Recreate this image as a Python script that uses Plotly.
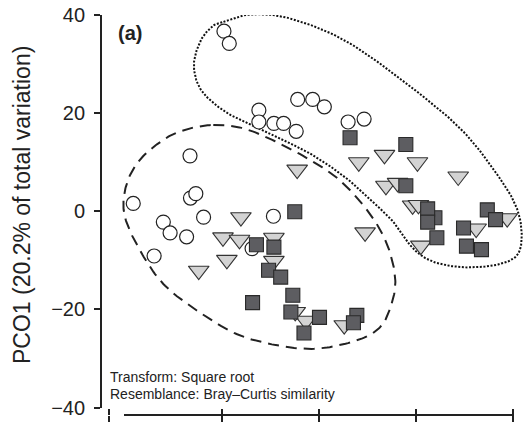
import numpy as np
import plotly.graph_objects as go

# ---- data (PCO scores) ----
circle_x = [-19.6, -18.5, -12.4, -12.4, -9.3, -7.3, -4.7, -4.4, -1.3, 1.1, 6.0, 9.3,
            -26.6, -38.3, -26.5, -25.4, -23.8, -32.1, -30.7, -27.3, -34.0, -9.4, -13.8]
circle_y = [36.7, 34.2, 20.6, 18.2, 17.9, 17.9, 16.3, 22.8, 22.8, 21.3, 18.2, 18.8,
            11.3, 1.6, 2.7, 3.6, -1.2, -2.2, -4.4, -5.2, -9.1, -1.0, -7.6]

triangle_x = [-4.5, -16.1, -19.8, -16.4, -9.3, -19.0, -24.8, -9.3, 8.2, 13.5, 20.3, 28.7,
              9.5, 13.8, 16.2, 19.3, 20.5, 21.0, 32.4, 38.8, -4.9, -2.7, 5.2]
triangle_y = [8.5, -1.2, -5.3, -5.8, -5.4, -9.9, -12.1, -10.1, 10.0, 11.5, 10.0, 7.1,
              -4.3, 5.2, 5.8, 1.2, 1.3, -7.0, -3.5, -1.4, -20.5, -22.3, -23.2]

square_x = [6.4, 17.9, 17.9, 23.9, 22.4, 22.4, 24.3, 34.7, 36.4, 29.8, 30.4, 33.5,
            -5.0, -12.9, -9.3, -10.4, -7.9, -5.4, -13.7, -5.8, 0.1, -3.1, 7.8, 7.1]
square_y = [15.0, 13.6, 5.2, -1.3, 0.5, -2.2, -5.4, 0.3, -1.7, -3.4, -7.1, -7.8,
            -0.1, -6.8, -7.3, -12.0, -13.4, -17.1, -18.6, -20.5, -21.6, -24.8, -21.2, -22.7]

# group outlines (control points)
dashed_outline_x = [-21.8, -15.6, -8.7, -0.5, 5.0, 10.5, 14.0, 15.7, 15.0, 12.6, 7.8, -0.5,
                    -8.7, -17.0, -25.2, -32.1, -36.9, -40.0, -40.0, -37.6, -32.8, -28.0]
dashed_outline_y = [17.6, 16.9, 14.1, 9.7, 5.7, -0.5, -6.6, -13.4, -18.8, -23.6, -26.3, -28.0,
                    -27.3, -25.0, -20.2, -14.8, -8.0, -1.2, 4.3, 9.7, 14.1, 16.5]

dotted_outline_x = [-19.7, -14.2, -6.0, 5.7, 19.4, 29.8, 37.3, 40.8, 41.8, 40.8, 36.6, 29.8,
                    23.6, 19.4, 16.0, 11.9, 5.7, -1.2, -8.0, -14.9, -20.4, -24.5, -25.8,
                    -24.5, -22.1]
dotted_outline_y = [38.6, 40.1, 39.3, 34.6, 25.0, 16.2, 6.7, 0.6, -4.9, -9.0, -10.9, -11.4,
                    -10.3, -7.6, -2.9, 1.2, 6.7, 11.4, 14.8, 17.9, 21.0, 25.0, 29.8,
                    34.6, 37.6]

y_tick_vals = [-40, -20, 0, 20, 40]
y_tick_text = ["\u221240", "\u221220", "0", "20", "40"]
x_tick_vals = [-43.2, -20, 0, 20, 40]

y_title = "PCO1 (20.2% of total variation)"
panel_label = "<b>(a)</b>"
note_lines = ["Transform: Square root", "Resemblance: Bray\u2013Curtis similarity"]


def closed_spline(xs, ys, n=16):
    p = np.column_stack([xs, ys])
    m = len(p)
    out = []
    for i in range(m):
        p0, p1, p2, p3 = p[(i - 1) % m], p[i], p[(i + 1) % m], p[(i + 2) % m]
        for t in np.linspace(0, 1, n, endpoint=False):
            t2, t3 = t * t, t * t * t
            out.append(0.5 * ((2 * p1) + (-p0 + p2) * t + (2 * p0 - 5 * p1 + 4 * p2 - p3) * t2
                              + (-p0 + 3 * p1 - 3 * p2 + p3) * t3))
    out.append(out[0])
    out = np.array(out)
    return out[:, 0], out[:, 1]


FONT = "Liberation Sans, Arial, Helvetica, sans-serif"
INK = "#222222"

# plot-area geometry (pixels)
W, H = 525, 428
ML, MR, MT, MB = 101, 2, 15.3, 13.3
PW, PH = W - ML - MR, H - MT - MB
x_range = [-44.95, 42.06]
y_range = [-41.5, 40]


def px_x(v):
    return (v - x_range[0]) / (x_range[1] - x_range[0])


def px_y(v):
    return (v - y_range[0]) / (y_range[1] - y_range[0])


fig = go.Figure()

dx, dy = closed_spline(dashed_outline_x, dashed_outline_y)
fig.add_trace(go.Scatter(x=dx, y=dy, mode="lines", cliponaxis=False, hoverinfo="skip",
                         line=dict(color=INK, width=2, dash="11px,7px")))
ox, oy = closed_spline(dotted_outline_x, dotted_outline_y)
fig.add_trace(go.Scatter(x=ox, y=oy, mode="lines", cliponaxis=False, hoverinfo="skip",
                         line=dict(color="#111111", width=2, dash="2px,1.6px")))

fig.add_trace(go.Scatter(x=circle_x, y=circle_y, mode="markers", cliponaxis=False,
                         marker=dict(symbol="circle", size=14, color="white",
                                     line=dict(color=INK, width=1.2))))
fig.add_trace(go.Scatter(x=triangle_x, y=triangle_y, mode="markers", cliponaxis=False,
                         marker=dict(symbol="triangle-down", size=18, color="#d3d3d3",
                                     line=dict(color="#333333", width=1.1))))
fig.add_trace(go.Scatter(x=square_x, y=square_y, mode="markers", cliponaxis=False,
                         marker=dict(symbol="square", size=14, color="#5d5d61",
                                     line=dict(color="#2a2a2a", width=1.1))))

# empty traces so the axis-only subplots get drawn
fig.add_trace(go.Scatter(x=[], y=[], xaxis="x", yaxis="y2", hoverinfo="skip"))
fig.add_trace(go.Scatter(x=[], y=[], xaxis="x2", yaxis="y", hoverinfo="skip"))
fig.add_trace(go.Scatter(x=[], y=[], xaxis="x3", yaxis="y", hoverinfo="skip"))

x_line_range = [-40.2, 40.15]

fig.update_layout(
    template="none",
    width=W, height=H, autosize=False,
    margin=dict(l=ML, r=MR, t=MT, b=MB, pad=0),
    paper_bgcolor="white", plot_bgcolor="rgba(0,0,0,0)",
    showlegend=False,
    font=dict(family=FONT, color=INK),
    # main data axes: ticks (crossing line) only
    xaxis=dict(range=x_range, domain=[0, 1], showgrid=False, zeroline=False, showline=False,
               tickmode="array", tickvals=x_tick_vals, showticklabels=False,
               ticks="outside", ticklen=6, tickwidth=1.8, tickcolor=INK, automargin=False),
    xaxis3=dict(overlaying="x", range=x_range, anchor="y", side="bottom",
                showgrid=False, zeroline=False, showline=False,
                tickmode="array", tickvals=x_tick_vals, showticklabels=False,
                ticks="inside", ticklen=6, tickwidth=1.8, tickcolor=INK, automargin=False),
    # x axis line (shorter than the plot area)
    xaxis2=dict(range=x_line_range, domain=[px_x(x_line_range[0]), px_x(x_line_range[1])],
                anchor="free", position=0, showgrid=False, zeroline=False,
                showline=True, linewidth=1.8, linecolor=INK, ticks="", showticklabels=False,
                automargin=False),
    yaxis=dict(range=y_range, domain=[0, 1], visible=False),
    # y axis spanning -40..40 only
    yaxis2=dict(range=[-40, 40], domain=[px_y(-40), px_y(40)], anchor="free", position=0,
                showgrid=False, zeroline=False, showline=True, linewidth=1.8, linecolor=INK,
                tickmode="array", tickvals=y_tick_vals, ticktext=y_tick_text,
                ticks="outside", ticklen=6, tickwidth=1.8, tickcolor=INK,
                tickfont=dict(size=20, family=FONT, color=INK), ticklabelstandoff=5,
                automargin=False),
)

fig.add_annotation(text=y_title, textangle=-90, xref="paper", yref="paper",
                   x=(22 - ML) / PW, y=(H - MB - 205) / PH,
                   xanchor="center", yanchor="middle", showarrow=False,
                   font=dict(size=23, family=FONT, color=INK))
fig.add_annotation(text=panel_label, xref="paper", yref="paper",
                   x=px_x(-41.8), y=px_y(36.3),
                   xanchor="left", yanchor="middle", showarrow=False,
                   font=dict(size=20, family=FONT, color=INK))
fig.add_annotation(text=note_lines[0], xref="paper", yref="paper",
                   x=px_x(-43.6), y=px_y(-33.7),
                   xanchor="left", yanchor="middle", showarrow=False,
                   font=dict(size=14, family=FONT, color=INK))
fig.add_annotation(text=note_lines[1], xref="paper", yref="paper",
                   x=px_x(-43.6), y=px_y(-37.3),
                   xanchor="left", yanchor="middle", showarrow=False,
                   font=dict(size=14, family=FONT, color=INK))

fig.write_html("out.html", config={"displayModeBar": False},
               post_script="document.body.style.margin='0';document.body.style.overflow='hidden';")
